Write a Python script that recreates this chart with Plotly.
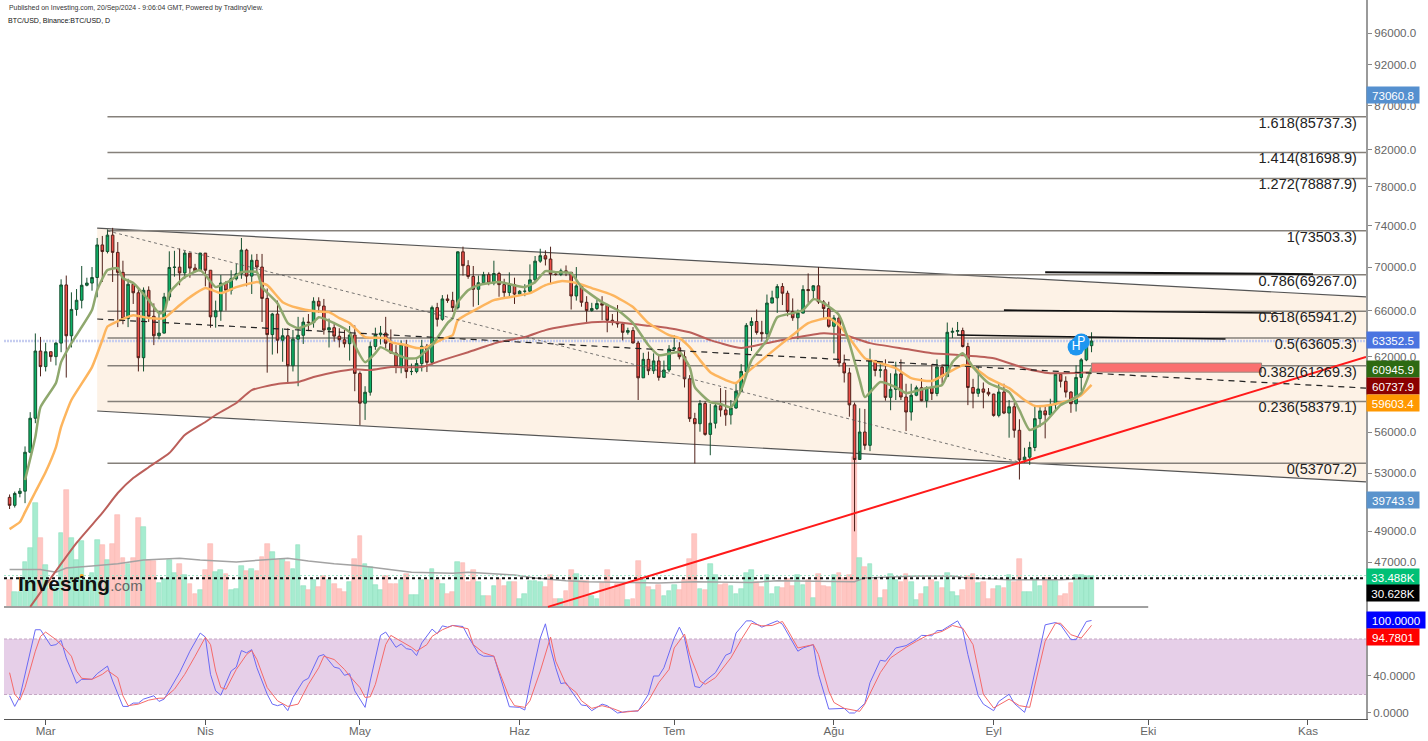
import pandas as pd
import plotly.graph_objects as go

# ---------- DATA ----------
opens = [51300,50750,51570,51730,54520,57080,62500,
 61200,62440,62030,63170,68330,63800,66110,66930,68300,68500,69020,72120,71480,73080,71400,69500,65300,68390,67610,61940,67840,65500,63800,64030,67230,69960,69990,69450,71330,69900,69650,
 71330,69700,65450,65980,68500,67840,68900,69360,71620,69150,70640,70000,67100,63900,65700,63420,63800,61270,63510,63840,64990,64940,66840,66410,64300,64500,63770,63460,63120,63870,
 60640,58250,59120,62890,63890,64030,63160,62330,61190,63050,60790,60800,61450,62900,61550,66270,65230,67050,66920,66270,71450,70130,69120,67930,68530,69280,68500,69390,68360,67630,68360,
 67490,67750,67750,68800,70560,71080,70760,69340,69300,69640,69500,67320,68240,66750,66010,66190,66640,66490,65150,64960,64830,64100,64250,63180,60280,61800,60860,61670,60320,60920,
 62670,62770,62020,60200,57050,56660,58230,55850,56700,58050,57720,57340,57880,59200,60800,64700,65040,64090,63970,66680,67150,68180,67570,65930,65370,65780,67910,67810,68250,66780,66190,
 64620,65350,61500,60680,58120,53990,56030,55030,61710,60880,60940,58710,59350,60600,58740,57560,58880,59480,58450,59490,59020,61160,60380,64100,64180,64250,62880,59500,59030,59380,59120,
 58970,57300,59130,57480,57970,56160,53950,54160,54870,57050,57650,57340,58130,60570,60000,59130,58210,60310,61760,62950]
highs = [51500,51700,51950,54950,57550,64000,63700,
 63200,62450,63250,68850,69200,67650,67950,70100,69000,70000,72800,73000,73650,73800,72400,70600,68900,68500,68100,68100,68200,66650,65950,67600,71500,71550,71770,71550,70900,70300,71350,
 71300,69700,66900,69250,68700,69700,70300,72800,71750,71200,71250,71250,68000,65800,66900,64450,64450,64300,65450,65400,65700,67200,67200,67050,65300,65000,64450,64300,64650,64700,
 60800,59600,63300,64500,64650,65450,64350,63000,63400,63450,61450,61800,63450,63100,66450,66700,67400,67450,67700,71500,71950,70650,70100,69200,69550,69500,70600,69550,68900,69500,69000,
 67850,68400,70250,71050,71750,71600,71950,69550,69850,70150,69550,70000,68400,67300,66700,66950,67300,66600,65700,66500,65000,64500,64550,63350,62350,62450,62300,62200,61700,63000,
 63850,63250,62450,60500,57500,58500,58400,58200,58300,59450,59300,58500,59850,61400,64900,65400,66100,65100,67450,67800,68400,68500,67800,67100,66100,68300,69400,68300,70000,66950,66800,
 65600,65550,62200,61100,58300,57850,57800,62700,61700,61400,61800,60650,61600,61800,59800,59800,59650,60250,59600,61400,61800,61400,64950,64500,65000,64500,63200,60200,61200,59900,59450,
 59000,59800,59800,58500,58300,57000,54850,55300,58100,58000,58000,58600,60650,60650,60400,59200,61300,61900,63850,64100]
lows = [50500,50600,51300,50900,54450,56700,60400,
 60800,61600,61300,62400,60300,62800,65550,66200,68200,67800,67200,68600,71300,68600,64550,64800,64550,66600,60800,60800,65000,63000,63500,64000,66900,69100,68300,68900,69000,69500,69600,
 68200,64500,64500,65100,66000,67450,68750,68900,68200,67500,69600,65000,60700,62200,62300,61600,59800,60800,59600,63100,64200,64500,65800,63900,62800,63300,62800,62800,61700,59200,
 56550,56950,58850,62600,63050,62750,62300,60650,60650,60250,60500,60650,60800,60750,61350,64600,65100,66700,65900,66100,69200,68900,66350,66500,68500,68300,68300,67250,67150,67150,66600,
 67450,67300,67600,68500,70400,70150,68500,69200,69150,69150,66100,66900,66350,65000,65900,66050,65150,64100,64700,64500,63400,63900,63150,58500,60300,60500,60600,60050,60400,60750,
 62500,61800,59500,56800,53700,56050,55750,54300,56300,57200,56500,56600,57800,59500,60600,62500,63900,63300,63300,66700,65800,66500,65500,65100,63500,65750,66700,67000,66600,65300,64500,
 62300,61200,59900,57200,49000,54600,54700,54600,60400,60300,58450,57700,58500,58500,56100,56900,58800,58400,57900,58500,58800,59800,60400,63600,63800,62800,58100,57850,58750,57850,58800,
 57200,57150,57400,55600,55600,52550,53750,53600,54600,56400,55550,57300,57650,59500,58700,57500,57600,59200,61650,62400]
closes = [50750,51570,51730,54520,57080,62500,61200,
 62440,62030,63170,68330,63800,66110,66930,68300,68500,69020,72120,71480,73080,71400,69500,65300,68390,67610,61940,67840,65500,63800,64030,67230,69960,69990,69450,71330,69900,69650,71330,
 69700,65450,65980,68500,67840,68900,69360,71620,69150,70640,70000,67100,63900,65700,63420,63800,61270,63510,63840,64990,64940,66840,66410,64300,64500,63770,63460,63120,63870,60640,
 58250,59120,62890,63890,64030,63160,62330,61190,63050,60790,60800,61450,62900,61550,66270,65230,67050,66920,66270,71450,70130,69120,67930,68530,69280,68500,69390,68360,67630,68360,67490,
 67750,67750,68800,70560,71080,70760,69340,69300,69640,69500,67320,68240,66750,66010,66190,66640,66490,65150,64960,64830,64100,64250,63180,60280,61800,60860,61670,60320,60920,62670,
 62770,62020,60200,57050,56660,58230,55850,56700,58050,57720,57340,57880,59200,60800,64700,65040,64090,63970,66680,67150,68180,67570,65930,65370,65780,67910,67810,68250,66780,66190,64620,
 65350,61500,60680,58120,53990,56030,55030,61710,60880,60940,58710,59350,60600,58740,57560,58880,59480,58450,59490,59020,61160,60380,64100,64180,64250,62880,59500,59030,59380,59120,58970,
 57300,59130,57480,57970,56160,53950,54160,54870,57050,57650,57340,58130,60570,60000,59130,58210,60310,61760,62950,63350]
volumes = [29,16,16,48,63,111,73,
 45,19,21,79,124,73,50,70,29,36,71,66,50,67,98,52,46,52,95,85,50,49,26,30,50,36,46,34,24,14,18,
 39,67,37,39,35,18,19,44,38,40,38,53,67,59,50,51,48,40,66,22,18,29,21,33,29,24,19,16,27,51,
 76,46,43,23,18,33,24,24,29,35,13,13,29,29,40,29,24,14,16,48,47,27,39,27,12,12,22,30,22,27,27,
 9,14,28,28,27,21,34,9,9,17,39,35,28,28,12,9,26,39,19,24,24,7,9,49,29,21,18,23,12,17,
 23,18,29,51,78,19,18,46,34,23,24,22,14,19,36,39,27,21,34,14,21,20,30,22,34,23,29,10,35,22,21,
 34,36,31,34,160,52,43,46,29,10,18,35,29,27,35,27,7,14,21,29,27,20,36,16,12,18,33,35,26,27,9,
 19,22,20,34,27,51,16,16,30,22,31,29,28,12,14,26,34,34,33,33.5]

fast_dates = ["02-26","02-28","02-29","03-03","03-04","03-06","03-10","03-11","03-13","03-15","03-16","03-18","03-21","03-23","03-24","03-25","03-28","03-31","04-03","04-04","04-06","04-08","04-11","04-12","04-15","04-17","04-19","04-22","04-23","04-26","04-29","04-30","05-02","05-04","05-05","05-07","05-10","05-12","05-15","05-18","05-19","05-20","05-22","05-24","05-28","06-02","06-04","06-06","06-08","06-11","06-13","06-17","06-20","06-23","06-26","06-28","07-02","07-04","07-05","07-08","07-10","07-12","07-14","07-16","07-19","07-21","07-24","07-26","07-28","07-30","08-02","08-04","08-06","08-07","08-10","08-13","08-15","08-19","08-22","08-24","08-26","08-28","08-31","09-04","09-06","09-08","09-11","09-14","09-16","09-18","09-20"]
fast_vals = [52510,55650,57940,59860,61570,63170,66050,67850,69710,69900,68960,68500,66940,65780,65870,67580,69060,69710,68130,68310,68780,69520,69520,68130,66670,64900,64460,64980,65420,64900,64100,62990,61570,62320,62830,62400,61900,61900,62990,64900,65340,66760,67850,68310,68590,68130,68590,69610,69520,69420,68130,66760,66050,64900,62990,62150,62400,61160,59520,58340,58190,57940,59290,61740,63430,65420,65780,66050,67030,66670,65600,63170,60100,58730,59940,59520,59050,59450,59700,61570,62320,61160,59860,59130,57710,56180,56790,58110,58500,59050,61070]

mid_dates = ["02-23","02-25","02-26","02-28","03-01","03-03","03-04","03-06","03-10","03-12","03-13","03-15","03-18","03-21","03-24","03-27","03-29","04-01","04-04","04-07","04-11","04-13","04-16","04-19","04-22","04-25","04-27","04-29","05-02","05-06","05-07","05-10","05-12","05-14","05-17","05-19","05-20","05-24","05-27","05-30","06-03","06-06","06-09","06-12","06-15","06-19","06-23","06-26","06-30","07-02","07-04","07-06","07-08","07-11","07-13","07-15","07-18","07-22","07-24","07-27","07-31","08-02","08-04","08-07","08-10","08-13","08-16","08-20","08-23","08-26","08-28","08-31","09-04","09-07","09-09","09-12","09-16","09-18","09-20"]
mid_vals = [49150,49620,50290,51670,53080,54900,56410,58500,61160,63430,64600,65070,65600,65340,65340,66490,67210,68040,67580,68130,68590,68310,66760,66230,65960,65870,65340,64900,63690,63600,63260,62990,62750,62830,63520,63860,65160,66230,66940,67210,67580,68310,68680,68500,68040,67400,66320,64900,63860,63600,62830,61740,60740,60100,59860,60660,61740,63170,63860,64900,65340,64720,63600,61900,61490,61070,60260,60020,60660,61320,61160,60260,59450,58500,58040,58110,58500,58890,59700]

slow_dates = ["02-27","03-07","03-12","03-15","03-18","03-21","03-25","03-28","04-01","04-03","04-07","04-10","04-15","04-19","04-22","04-26","04-30","05-03","05-07","05-13","05-17","05-22","05-28","06-02","06-06","06-10","06-15","06-20","06-25","06-30","07-04","07-08","07-10","07-14","07-19","07-24","07-30","08-03","08-08","08-15","08-20","08-26","09-01","09-07","09-12","09-20"]
slow_vals = [44250,48240,50230,51600,52650,53430,54460,55800,56790,57330,58270,59290,59780,59940,60340,60740,60990,60910,61160,61160,61740,62400,63260,63690,64290,64640,64980,64980,64720,64460,64100,63430,63170,62750,63170,63600,64010,63860,63170,62670,62320,62150,61900,61070,60660,60740]

volma_dates = ["02-23","02-29","03-03","03-05","03-10","03-15","03-20","03-27","03-31","04-07","04-12","04-17","04-21","04-26","05-01","05-07","05-11","05-19","05-22","05-31","06-04","06-10","06-14","06-28","07-05","07-16","07-21","08-05","08-07","08-17","08-24","08-27","09-04","09-14","09-20"]
volma_vals = [40,40,37,41.5,43.6,46,50,52,50,48,50,52,49,46,44,40,37,36,37,34,31,28,27,25.5,27,26,28,27,31,33,33,31,29,29,30.6]

k_dates = ["02-23","02-24","02-25","02-28","02-29","03-02","03-03","03-04","03-05","03-07","03-08","03-10","03-11","03-13","03-14","03-16","03-17","03-18","03-19","03-20","03-22","03-23","03-24","03-26","03-27","03-29","03-31","04-01","04-02","04-03","04-04","04-06","04-07","04-08","04-09","04-10","04-11","04-13","04-14","04-15","04-16","04-17","04-18","04-20","04-21","04-23","04-24","04-26","04-27","04-28","04-29","04-30","05-02","05-03","05-05","05-06","05-08","05-09","05-10","05-11","05-12","05-13","05-15","05-16","05-17","05-18","05-19","05-21","05-22","05-24","05-25","05-27","05-30","06-01","06-02","06-03","06-05","06-06","06-07","06-08","06-09","06-10","06-11","06-13","06-14","06-15","06-17","06-18","06-20","06-22","06-24","06-26","06-27","06-28","06-29","07-01","07-02","07-03","07-05","07-06","07-07","07-09","07-11","07-12","07-13","07-15","07-16","07-18","07-21","07-22","07-25","07-26","07-28","07-29","07-31","08-03","08-04","08-05","08-07","08-08","08-10","08-11","08-13","08-15","08-17","08-18","08-20","08-21","08-22","08-23","08-25","08-26","08-27","08-29","08-30","09-01","09-02","09-04","09-05","09-07","09-08","09-11","09-13","09-14","09-16","09-17","09-19","09-20"]
k_vals = [18.6,7.1,17.5,90,90,72.8,73.9,78.5,59.6,32.1,36.4,36.4,42.5,50.7,34.6,7.1,7.1,10.7,10.7,15,18.6,12.5,15,34.6,43.6,66.8,86.4,82.1,41.8,23.9,19.3,45.3,49.6,67.5,65,68.5,48.9,20.3,9.6,7.9,9.6,2.5,16.8,34.6,37.5,61.4,63.2,49.6,48.2,40.7,42.5,23.9,6.1,34.6,83.9,87.5,71,74.6,69.6,68.5,62.1,75.7,90.7,85.7,94.2,92.8,94.6,93.5,82.8,64.3,61.4,61.4,6.8,6.1,3.2,31,81,96.4,70,48.9,31.8,32.8,24,8.6,7.9,2.5,9.6,7.9,0,1.8,2.1,20.3,40,40,48.9,81,92.8,81,28.6,27.5,34.6,43.6,62.5,65,86.4,99.6,99.6,92.8,99.6,96,66.8,70.3,73.9,41.8,4.3,5,0,0,10.4,32.8,57,56,70.3,72.8,79.3,83.9,83.5,88.9,89.3,92.8,99.6,90,63.2,18.6,9.6,2.5,12.5,20.3,10.4,0.7,18.6,95.3,97.8,95.3,79.3,79.3,98.9,100]

d_dates = ["02-23","02-24","02-25","02-26","02-28","02-29","03-01","03-03","03-04","03-06","03-07","03-08","03-10","03-12","03-13","03-15","03-16","03-17","03-19","03-21","03-23","03-24","03-26","03-28","03-30","04-01","04-02","04-03","04-04","04-05","04-07","04-09","04-10","04-11","04-13","04-15","04-17","04-19","04-21","04-23","04-24","04-26","04-28","04-29","05-01","05-02","05-03","05-04","05-06","05-07","05-09","05-11","05-12","05-14","05-15","05-17","05-19","05-22","05-23","05-25","05-27","05-28","05-30","05-31","06-02","06-03","06-05","06-07","06-08","06-10","06-12","06-13","06-15","06-17","06-19","06-21","06-24","06-26","06-28","06-30","07-01","07-03","07-04","07-06","07-07","07-09","07-12","07-14","07-16","07-18","07-20","07-22","07-23","07-25","07-28","07-29","07-31","08-01","08-03","08-06","08-07","08-10","08-12","08-15","08-17","08-19","08-22","08-24","08-26","08-28","08-30","09-01","09-04","09-06","09-08","09-09","09-11","09-13","09-14","09-16","09-18","09-20"]
d_vals = [43.6,20.3,13.9,27.5,66.8,82.8,87.5,79.3,73.9,61.4,45.3,37.5,36.4,41.8,46,38.2,18.6,7.9,9.6,13.9,16,16,25.7,41.8,61.4,81.8,73.9,45.3,27.5,25.7,47.1,63.2,67.5,57.8,27.5,13.2,7.1,9.6,31,48.9,61.4,57.8,47.1,40,27.5,16.8,17.5,31,73.9,83.9,77.5,71,66.8,73.9,82.8,90,94.6,91,73.9,65,61.4,45.3,16.8,7.9,6.1,13.2,45.3,82,56,31,22,13.2,5,7.9,5,0.7,2.5,13.2,32.8,47.1,70.3,85.3,63.2,34.6,31,38.2,59.6,79.3,97,94.2,94.6,98.9,90,70.3,73.9,63.2,23.9,11.4,5,1.8,9.6,43.6,59.6,71,77.5,83.5,88.2,94.6,91.7,73.9,20.3,5.4,15,7.9,6.1,31,77.5,97,97,84.6,81,94.78]

fib_levels = [53707.2,58379.1,61269.3,63605.3,65941.2,69267.0,73503.3,78887.9,81698.9,85737.3]
fib_names = ["0","0.236","0.382","0.5","0.618","0.786","1","1.272","1.414","1.618"]

price_ticks = [96000,92000,87000,82000,78000,74000,70000,66000,62000,56000,53000,49000,47000]
osc_ticks = [0,40]
month_ticks = ["2024-03-01","2024-04-01","2024-05-01","2024-06-01","2024-07-01","2024-08-01","2024-09-01","2024-10-01","2024-11-01"]
month_labels = ["Mar","Nis","May","Haz","Tem","Ağu","Eyl","Eki","Kas"]

# ---------- GEOMETRY / STYLE ----------
W, H = 1428, 741
PLOT_L, PLOT_R, PLOT_B = 4, 1366, 719
X_START, X_END = "2024-02-21 22:00", "2024-11-12 06:30"
PRICE_RANGE = [4.58021, 5.00161]
VOL_RANGE = [-119.1, 645.7]
OSC_RANGE = [-6.5, 770.8]
FONT = "Liberation Sans"

days = pd.date_range("2024-02-23", "2024-09-20").strftime("%Y-%m-%d").tolist()
for name, arr in [("o", opens), ("h", highs), ("l", lows), ("c", closes), ("v", volumes)]:
    if len(arr) != len(days):
        raise SystemExit(f"{name}: {len(arr)} != {len(days)}")
for a, b in [(fast_dates, fast_vals), (mid_dates, mid_vals), (slow_dates, slow_vals), (volma_dates, volma_vals), (k_dates, k_vals), (d_dates, d_vals)]:
    if len(a) != len(b):
        raise SystemExit(f"{a[0]} {len(a)} != {len(b)}")

def full(ds):
    return ["2024-" + s for s in ds]

def line(x, y, axis, color, width=1, dash="solid", shape="linear", smoothing=None):
    ln = dict(color=color, width=width, dash=dash, shape=shape)
    if smoothing is not None:
        ln["smoothing"] = smoothing
    return go.Scatter(x=x, y=y, yaxis=axis, mode="lines", line=ln, hoverinfo="skip", showlegend=False)

fig = go.Figure()

# volume pane (bottom layer)
bar_colors = ["#a6ecd0" if c >= o else "#ffc6c2" for o, c in zip(opens, closes)]
bar_edges = ["#90dfc0" if c >= o else "#fbb8b4" for o, c in zip(opens, closes)]
fig.add_trace(go.Bar(x=days, y=volumes, yaxis="y", width=86400000 * 0.92,
                     marker=dict(color=bar_colors, line=dict(color=bar_edges, width=0.6)),
                     hoverinfo="skip", showlegend=False))
fig.add_trace(line([X_START, "2024-10-01"], [0, 0], "y", "#a0a0a0", 2))
fig.add_trace(line(full(volma_dates), volma_vals, "y", "#a3a3a3", 1.5))
fig.add_trace(line([X_START, X_END], [33.488, 33.488], "y", "#9fe6c8", 1, "2px,2px"))
fig.add_trace(line([X_START, X_END], [30.628, 30.628], "y", "#111111", 2, "3px,3px"))

# price background: channel and fib levels
fig.add_trace(go.Scatter(x=["2024-03-11", X_END, X_END, "2024-03-11", "2024-03-11"],
                         y=[73780, 67230, 52380, 57640, 73780], yaxis="y2", mode="lines",
                         fill="toself", fillcolor="#fdf2e6", line=dict(width=0),
                         hoverinfo="skip", showlegend=False))
fig.add_trace(line(["2024-03-11", X_END], [73780, 67230], "y2", "#555555", 1.2))
fig.add_trace(line(["2024-03-11", X_END], [57640, 52380], "y2", "#555555", 1.2))
for lvl in fib_levels:
    fig.add_trace(line(["2024-03-13", X_END], [lvl, lvl], "y2", "#85807a", 1.5))
fig.add_trace(line([X_START, X_END], [63352.5, 63352.5], "y2", "#c6cdf0", 2.5, "2px,1px"))

# candles
fig.add_trace(go.Candlestick(x=days, open=opens, high=highs, low=lows, close=closes, yaxis="y3",
                             increasing=dict(line=dict(color="#14502f", width=1), fillcolor="#0db067"),
                             decreasing=dict(line=dict(color="#50201a", width=1), fillcolor="#ef4d47"),
                             whiskerwidth=0, hoverinfo="skip", showlegend=False))

# moving averages
fig.add_trace(line(full(slow_dates), slow_vals, "y3", "#bb5f5a", 2, shape="spline", smoothing=0.5))
fig.add_trace(line(full(mid_dates), mid_vals, "y3", "#fdb55e", 2.5, shape="spline", smoothing=0.5))
fig.add_trace(line(full(fast_dates), fast_vals, "y3", "#8fa86e", 2.5, shape="spline", smoothing=0.5))

# drawings
fig.add_trace(line(["2024-03-11", X_END], [65260, 59450], "y3", "#222222", 1.2, "6px,5px"))
fig.add_trace(line(["2024-03-13", "2024-09-06"], [73500, 53800], "y3", "#555555", 0.8, "3px,3px"))
fig.add_trace(line(["2024-06-06 12:00", X_END], [44250, 62000], "y3", "#ff1a1a", 2))
fig.add_trace(line(["2024-09-11", "2024-11-02"], [69520, 69330], "y3", "#111111", 2))
fig.add_trace(line(["2024-09-03", "2024-10-27"], [66050, 65780], "y3", "#111111", 1.6))
fig.add_trace(line(["2024-08-25", "2024-10-16"], [63860, 63520], "y3", "#111111", 1.6))
fig.add_trace(go.Scatter(x=["2024-09-20", "2024-10-23", "2024-10-23", "2024-09-20", "2024-09-20"],
                         y=[61490, 61490, 60740, 60740, 61490], yaxis="y3", mode="lines",
                         fill="toself", fillcolor="#fa7070", line=dict(color="#9a8a80", width=1),
                         hoverinfo="skip", showlegend=False))
fig.add_trace(go.Scatter(x=["2024-09-17", "2024-09-18"], y=[62830, 63260], yaxis="y3",
                         mode="markers+text", text=["H", "P"], textposition="middle center",
                         textfont=dict(color="white", size=12, family=FONT),
                         marker=dict(size=17, color="#1e96f0"), hoverinfo="skip", showlegend=False))
fig.add_trace(go.Scatter(x=["2024-11-10 12:00"] * len(fib_levels), y=fib_levels, yaxis="y3",
                         mode="text", text=[f"{n}({v:.1f})" for n, v in zip(fib_names, fib_levels)],
                         textposition="bottom left", textfont=dict(color="#222222", size=14.5, family=FONT),
                         hoverinfo="skip", showlegend=False))

# oscillator pane
fig.add_trace(go.Scatter(x=[X_START, X_END, X_END, X_START, X_START], y=[80, 80, 20, 20, 80], yaxis="y4",
                         mode="lines", fill="toself", fillcolor="#e6cfe8", line=dict(width=0),
                         hoverinfo="skip", showlegend=False))
fig.add_trace(line([X_START, X_END], [80, 80], "y4", "#c4a6c4", 1, "3px,2px"))
fig.add_trace(line([X_START, X_END], [20, 20], "y4", "#c4a6c4", 1, "3px,2px"))
fig.add_trace(line(full(k_dates), k_vals, "y4", "#6a6af5", 1))
fig.add_trace(line(full(d_dates), d_vals, "y4", "#f56a6a", 1))
# orange dot of the logo, sits in the top overlay
fig.add_trace(go.Scatter(x=["2024-03-08"], y=[148], yaxis="y4", mode="markers",
                         marker=dict(size=4, color="#f5a623"), hoverinfo="skip", showlegend=False))

# annotations
def px_x(x):
    return x / W

def px_y(y):
    return 1 - y / H

anns = [
    dict(text="Published on Investing.com, 20/Sep/2024 - 9:06:04 GMT, Powered by TradingView.", px=7, py=8, size=6.9, color="#333333"),
    dict(text="BTC/USD, Binance:BTC/USD, D", px=6, py=20.5, size=7.05, color="#111111"),
    dict(text='<b>Investing</b><span style="color:#666666;font-size:15px">.com</span>', px=16, py=583, size=21, color="#111111"),
]
annotations = [dict(xref="paper", yref="paper", x=px_x(a["px"]), y=px_y(a["py"]), text=a["text"], showarrow=False,
                    xanchor="left", yanchor="middle", font=dict(family=FONT, size=a["size"], color=a["color"]))
               for a in anns]

tags = [("73060.8", 95, "#5590cf", 52), ("63352.5", 340, "#4a74e0", 52), ("60945.9", 369, "#2d6a12", 52),
        ("60737.9", 386, "#8b0000", 52), ("59603.4", 403, "#ff9800", 52), ("39743.9", 500, "#5a93cc", 52),
        ("33.488K", 577, "#00c076", 52), ("30.628K", 593, "#000000", 52), ("100.0000", 620, "#0000ff", 58),
        ("94.7801", 636.5, "#ff0000", 52)]
for text, y, bg, w in tags:
    annotations.append(dict(xref="paper", yref="paper", x=px_x(1366), y=px_y(y), text=text, showarrow=False,
                            xanchor="left", yanchor="middle", align="center", width=w, height=16,
                            bgcolor=bg, borderpad=0, font=dict(family=FONT, size=11.6, color="white")))

common_y = dict(domain=[1 - PLOT_B / H, 1], showgrid=False, zeroline=False)
fig.update_layout(
    width=W, height=H, margin=dict(l=0, r=0, t=0, b=0),
    paper_bgcolor="white", plot_bgcolor="white", showlegend=False, hovermode=False,
    boxgap=0.28, bargap=0,
    font=dict(family=FONT, color="#666666", size=11.6),
    annotations=annotations,
    xaxis=dict(domain=[PLOT_L / W, PLOT_R / W], range=[X_START, X_END], type="date", showgrid=False, zeroline=False,
               tickmode="array", tickvals=month_ticks, ticktext=month_labels, ticks="outside", ticklen=5,
               ticklabelstandoff=-4,
               tickcolor="#555555", showline=True, linecolor="#555555", linewidth=1, rangeslider=dict(visible=False),
               tickfont=dict(family=FONT, size=11.6, color="#666666")),
    yaxis=dict(range=VOL_RANGE, visible=False, **common_y),
    yaxis2=dict(range=PRICE_RANGE, type="log", overlaying="y", visible=False, **common_y),
    yaxis3=dict(range=PRICE_RANGE, type="log", overlaying="y", side="right", anchor="x", tickmode="array",
                tickvals=price_ticks, ticktext=[f"{t:.1f}" for t in price_ticks], ticks="outside", ticklen=4,
                tickcolor="#888888", showline=True, linecolor="#9a9a9a", linewidth=2,
                tickfont=dict(family=FONT, size=11.6, color="#666666"), **common_y),
    yaxis4=dict(range=OSC_RANGE, overlaying="y", side="right", anchor="x", tickmode="array",
                tickvals=osc_ticks, ticktext=[f"{t:.4f}" for t in osc_ticks], ticks="outside", ticklen=4,
                tickcolor="#888888", showline=False,
                tickfont=dict(family=FONT, size=11.6, color="#666666"), **common_y),
)

fig.write_html("out.html", config={"displayModeBar": False},
               post_script="document.body.style.margin='0';document.body.style.overflow='hidden';")
